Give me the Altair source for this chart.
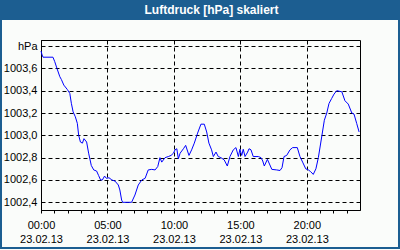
import altair as alt
import pandas as pd

# ---- data ----
times = [
    "00:00", "00:05", "00:09", "00:54", "01:02", "01:12", "01:25", "01:32", "01:43", "01:59",
    "02:10", "02:17", "02:25", "02:35", "02:44", "02:50", "02:58", "03:07", "03:14", "03:26",
    "03:35", "03:47", "03:58", "04:11", "04:20", "04:29", "04:37", "04:47", "04:55", "05:07",
    "05:20", "05:34", "05:49", "05:56", "06:04", "06:09", "06:49", "07:04", "07:19", "07:35",
    "07:50", "08:04", "08:20", "08:35", "08:47", "08:57", "09:05", "09:20", "09:35", "09:47",
    "09:58", "10:05", "10:13", "10:20", "10:28", "10:43", "10:53", "11:08", "11:20", "11:32",
    "11:47", "12:02", "12:17", "12:28", "12:38", "12:50", "12:58", "13:10", "13:20", "13:32",
    "13:47", "14:01", "14:13", "14:28", "14:40", "14:51", "14:58", "15:06", "15:13", "15:21",
    "15:33", "15:39", "15:48", "15:58", "16:21", "16:33", "16:41", "16:48", "17:02", "17:22",
    "17:44", "17:59", "18:08", "18:17", "18:29", "18:44", "18:56", "19:17", "19:29", "19:41",
    "19:55", "20:07", "20:17", "20:29", "20:41", "20:52", "21:07", "21:19", "21:30", "21:40",
    "21:52", "22:03", "22:15", "22:38", "22:52", "23:07", "23:23", "23:33", "23:45", "23:56",
]
pressure = [
    1003.755, 1003.72, 1003.70, 1003.70, 1003.66, 1003.60, 1003.525, 1003.50, 1003.45, 1003.41,
    1003.376, 1003.287, 1003.21, 1003.166, 1003.107, 1003.00, 1002.94, 1002.93, 1002.97, 1002.94,
    1002.84, 1002.73, 1002.69, 1002.68, 1002.64, 1002.60, 1002.60, 1002.635, 1002.615, 1002.62,
    1002.60, 1002.59, 1002.555, 1002.51, 1002.42, 1002.40, 1002.40, 1002.465, 1002.555, 1002.60,
    1002.615, 1002.69, 1002.695, 1002.69, 1002.72, 1002.80, 1002.76, 1002.80, 1002.81, 1002.82,
    1002.84, 1002.87, 1002.88, 1002.79, 1002.84, 1002.88, 1002.91, 1002.82, 1002.87, 1002.93,
    1003.02, 1003.10, 1003.10, 1003.03, 1002.93, 1002.87, 1002.81, 1002.85, 1002.81, 1002.80,
    1002.78, 1002.725, 1002.81, 1002.87, 1002.89, 1002.81, 1002.875, 1002.82, 1002.875, 1002.81,
    1002.85, 1002.88, 1002.87, 1002.81, 1002.81, 1002.80, 1002.77, 1002.725, 1002.785, 1002.695,
    1002.69, 1002.685, 1002.71, 1002.81, 1002.82, 1002.87, 1002.89, 1002.89, 1002.81, 1002.76,
    1002.70, 1002.69, 1002.675, 1002.65, 1002.70, 1002.80, 1002.985, 1003.135, 1003.20, 1003.285,
    1003.33, 1003.37, 1003.40, 1003.39, 1003.31, 1003.28, 1003.20, 1003.19, 1003.107, 1003.03,
]
y_ticks = [1002.4, 1002.6, 1002.8, 1003.0, 1003.2, 1003.4, 1003.6, 1003.8]
hours = list(range(24))
title_text = "Luftdruck [hPa] skaliert"

df = pd.DataFrame({"time": ["2013-02-23T" + t + ":00Z" for t in times], "value": pressure})

FONT = "Liberation Sans"
BLUE = "#1c5e91"
one = alt.Data(values=[{"k": 1}])

x_axis = alt.Axis(
    values=[alt.DateTime(year=2013, month=2, date=23, hours=h, utc=True) for h in hours],
    labelExpr="utchours(datum.value) % 5 == 0 ? [utcFormat(datum.value, '%H:%M'), utcFormat(datum.value, '%d.%m.%y')] : ''",
    grid=True,
    gridColor="black",
    gridDash=[4, 3],
    gridOpacity={"condition": {"test": "utchours(datum.value) % 5 == 0", "value": 1}, "value": 0},
    tickSize=3,
    tickColor="black",
    domainColor="black",
    labelColor="black",
    labelFont=FONT,
    labelFontSize=11,
    labelLineHeight=14,
    labelPadding=6,
    labelOverlap=False,
    labelFlush=False,
    title=None,
)
y_axis = alt.Axis(
    values=y_ticks,
    labelExpr="datum.value > 1003.75 ? 'hPa' : replace(format(datum.value, '.1f'), '.', ',')",
    grid=True,
    gridColor="black",
    gridDash=[4, 3],
    gridOpacity=1,
    ticks=False,
    domainColor="black",
    labelColor="black",
    labelFont=FONT,
    labelFontSize=11,
    labelPadding=4,
    labelOverlap=False,
    title=None,
)

line = alt.Chart(df).mark_line(color="#0000ff", strokeWidth=1).encode(
    x=alt.X(
        "time:T",
        scale=alt.Scale(
            type="utc",
            domain=[
                alt.DateTime(year=2013, month=2, date=23, hours=0, utc=True),
                alt.DateTime(year=2013, month=2, date=24, hours=0, utc=True),
            ],
        ),
        axis=x_axis,
    ),
    y=alt.Y(
        "value:Q",
        scale=alt.Scale(domain=[1002.331, 1003.854], nice=False, zero=False),
        axis=y_axis,
    ),
)

title_bar = alt.Chart(one).mark_rect(color=BLUE).encode(
    x=alt.value(-41), x2=alt.value(359), y=alt.value(-40), y2=alt.value(-20)
)
border = alt.Chart(one).mark_rect(fill=None, stroke=BLUE, strokeWidth=2).encode(
    x=alt.value(-40), x2=alt.value(358), y=alt.value(-39), y2=alt.value(208)
)
title = alt.Chart(one).mark_text(
    text=title_text, color="white", font=FONT, fontSize=12, fontWeight="bold",
    align="center", baseline="middle",
).encode(x=alt.value(170.5), y=alt.value(-30))

chart = (
    alt.layer(border, title_bar, line, title)
    .properties(
        width=319,
        height=170,
        autosize=alt.AutoSizeParams(type="none"),
        padding={"left": 41, "top": 40, "right": 40, "bottom": 40},
        background="#fafcfa",
    )
    .configure_view(stroke="black", strokeWidth=1)
)

chart.save("out.html", embed_options={"renderer": "svg", "actions": False})
